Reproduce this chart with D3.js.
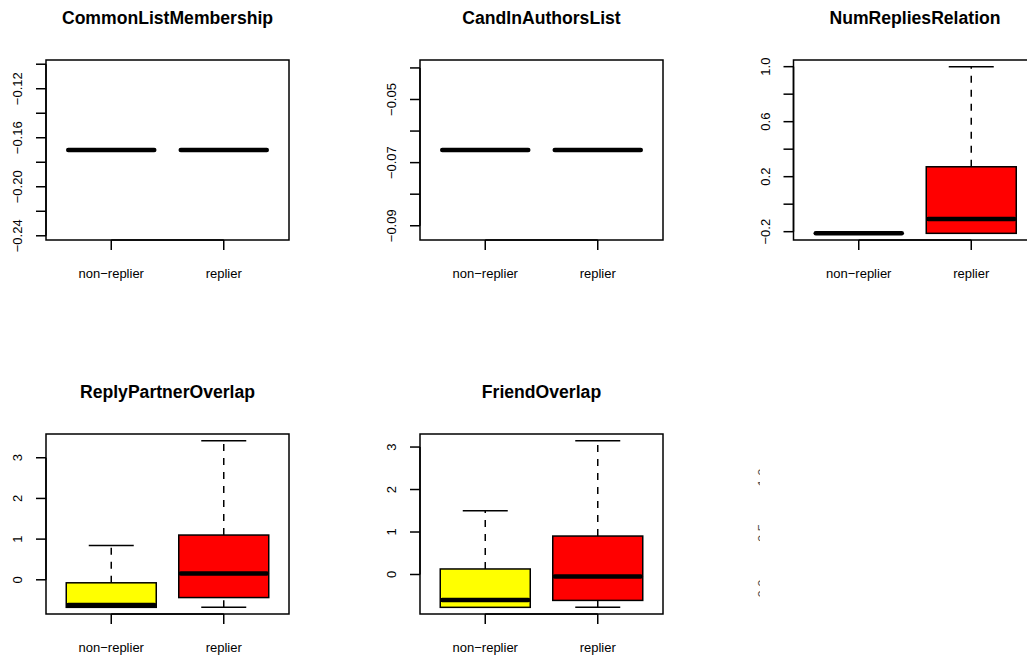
<!DOCTYPE html>
<html>
<head>
<meta charset="utf-8">
<script src="https://cdn.jsdelivr.net/npm/d3@7"></script>
<style>
  html, body { margin: 0; padding: 0; background: #fff; }
  svg { display: block; }
  text { font-family: "Liberation Sans", Arial, Helvetica, sans-serif; fill: #000; }
</style>
</head>
<body>
<svg id="chart" width="1027" height="659"></svg>
<script>
// Groups on the x axis of every panel
const groups = ["non\u2212replier", "replier"];
const groupFill = ["#ffff00", "#ff0000"];

// Panel titles, in drawing order (row by row)
const titles = [
  "CommonListMembership",
  "CandInAuthorsList",
  "NumRepliesRelation",
  "ReplyPartnerOverlap",
  "FriendOverlap"
];

// Box statistics per panel: [lower whisker, Q1, median, Q3, upper whisker]
const commonListMembership = [
  [-0.17, -0.17, -0.17, -0.17, -0.17],
  [-0.17, -0.17, -0.17, -0.17, -0.17]
];
const candInAuthorsList = [
  [-0.066, -0.066, -0.066, -0.066, -0.066],
  [-0.066, -0.066, -0.066, -0.066, -0.066]
];
const numRepliesRelation = [
  [-0.212, -0.212, -0.212, -0.212, -0.212],
  [-0.212, -0.212, -0.107, 0.272, 1.0]
];
const replyPartnerOverlap = [
  [-0.677, -0.677, -0.62, -0.074, 0.84],
  [-0.677, -0.437, 0.155, 1.10, 3.42]
];
const friendOverlap = [
  [-0.773, -0.773, -0.60, 0.13, 1.50],
  [-0.773, -0.61, -0.05, 0.905, 3.15]
];
const panelStats = [commonListMembership, candInAuthorsList, numRepliesRelation,
                    replyPartnerOverlap, friendOverlap];

// Faint labels of the sixth (empty) cell, of which only slivers show
const ghostLabels = ["1.0", "0.5", "0.0"];

// Layout
const colLeft = [46, 420, 793.5];
const rowTop = [60, 434];
const plotW = 243, plotH = 180;

const svg = d3.select("#chart");

function yDomain(stats) {
  let lo = d3.min(stats, s => d3.min(s));
  let hi = d3.max(stats, s => d3.max(s));
  if (lo === hi) {
    const t = lo === 0 ? 1 : 0.4 * Math.abs(lo);
    lo -= t; hi += t;
  }
  const pad = (hi - lo) * 0.04;
  return [lo - pad, hi + pad];
}

panelStats.forEach((stats, i) => {
  const left = colLeft[i % 3];
  const top = rowTop[Math.floor(i / 3)];
  const g = svg.append("g").attr("transform", `translate(${left},${top})`);

  const x = d3.scaleLinear().domain([0.42, groups.length + 0.58]).range([0, plotW]);
  const y = d3.scaleLinear().domain(yDomain(stats)).range([plotH, 0]);
  const half = x(1.4) - x(1);

  // Title
  g.append("text")
    .attr("x", plotW / 2).attr("y", -36)
    .attr("text-anchor", "middle")
    .style("font-size", "17.6px").style("font-weight", "bold")
    .text(titles[i]);

  // Boxes
  stats.forEach((s, k) => {
    const cx = x(k + 1);
    const [wLo, q1, med, q3, wHi] = s;
    const bg = g.append("g");
    // whiskers
    [[q3, wHi], [wLo, q1]].forEach(([a, b]) => {
      if (a !== b) {
        bg.append("line")
          .attr("x1", cx).attr("x2", cx).attr("y1", y(a)).attr("y2", y(b))
          .attr("stroke", "#000").attr("stroke-width", 1.5)
          .attr("stroke-dasharray", "7,7");
      }
    });
    // staples
    [wLo, wHi].forEach(v => {
      bg.append("line")
        .attr("x1", cx - half / 2).attr("x2", cx + half / 2)
        .attr("y1", y(v)).attr("y2", y(v))
        .attr("stroke", "#000").attr("stroke-width", 1.5);
    });
    // box
    bg.append("rect")
      .attr("x", cx - half).attr("width", 2 * half)
      .attr("y", y(q3)).attr("height", Math.max(0, y(q1) - y(q3)))
      .attr("fill", groupFill[k])
      .attr("stroke", "#000").attr("stroke-width", 1.5);
    // median
    bg.append("line")
      .attr("x1", cx - half + 2).attr("x2", cx + half - 2)
      .attr("y1", y(med)).attr("y2", y(med))
      .attr("stroke", "#000").attr("stroke-width", 4.5)
      .attr("stroke-linecap", "round");
  });

  // Frame (clipped by the page edge in the last column)
  g.append("rect")
    .attr("width", plotW).attr("height", plotH)
    .attr("fill", "none").attr("stroke", "#000").attr("stroke-width", 1.5);

  // Y axis: ticks plus labels that fit without overlapping
  const ticks = y.ticks(5);
  const ya = g.append("g");
  ya.append("line")
    .attr("x1", 0).attr("x2", 0)
    .attr("y1", y(ticks[0])).attr("y2", y(ticks[ticks.length - 1]))
    .attr("stroke", "#000").attr("stroke-width", 1.5);
  const fmt = v => {
    const step = ticks.length > 1 ? Math.abs(ticks[1] - ticks[0]) : 1;
    const dec = Math.max(0, -Math.floor(Math.log10(step) + 1e-9));
    return d3.format(`.${dec}f`)(v).replace("-", "\u2212");
  };
  let lastPos = null, lastLen = 0;
  const gap = 13 * 0.833;
  ticks.forEach(t => {
    ya.append("line")
      .attr("x1", -10).attr("x2", 0).attr("y1", y(t)).attr("y2", y(t))
      .attr("stroke", "#000").attr("stroke-width", 1.5);
    const lbl = ya.append("text")
      .attr("transform", `translate(-24,${y(t)}) rotate(-90)`)
      .attr("text-anchor", "middle")
      .style("font-size", "13px")
      .text(fmt(t));
    const len = lbl.node().getComputedTextLength();
    if (lastPos !== null && Math.abs(y(t) - lastPos) < (len + lastLen) / 2 + gap) {
      lbl.remove();
    } else {
      lastPos = y(t); lastLen = len;
    }
  });

  // X axis
  const xa = g.append("g").attr("transform", `translate(0,${plotH})`);
  xa.append("line")
    .attr("x1", x(1)).attr("x2", x(groups.length))
    .attr("stroke", "#000").attr("stroke-width", 1.5);
  groups.forEach((name, k) => {
    xa.append("line")
      .attr("x1", x(k + 1)).attr("x2", x(k + 1)).attr("y1", 0).attr("y2", 10)
      .attr("stroke", "#000").attr("stroke-width", 1.5);
    xa.append("text")
      .attr("x", x(k + 1)).attr("y", 38)
      .attr("text-anchor", "middle")
      .style("font-size", "13px")
      .text(name);
  });
});

// Sixth cell: axis labels that fall almost entirely outside the page strip
const defs = svg.append("defs");
defs.append("clipPath").attr("id", "ghostClip")
  .append("rect").attr("x", 756.5).attr("y", 440).attr("width", 3.5).attr("height", 180);
const ghost = svg.append("g").attr("clip-path", "url(#ghostClip)");
const gy = d3.scalePoint().domain(ghostLabels).range([477.5, 588.5]);
ghostLabels.forEach(l => {
  ghost.append("text")
    .attr("transform", `translate(766.5,${gy(l)}) rotate(-90)`)
    .attr("text-anchor", "middle")
    .style("font-size", "13px")
    .style("fill", "#555")
    .text(l);
});
</script>
</body>
</html>
